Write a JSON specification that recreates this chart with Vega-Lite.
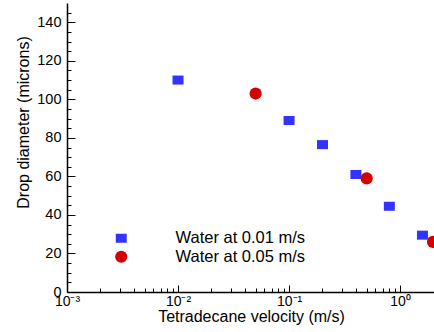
{
  "$schema": "https://vega.github.io/schema/vega-lite/v6.json",
  "width": 367,
  "height": 289,
  "autosize": {"type": "none"},
  "padding": {"left": 67, "top": 3, "right": 0, "bottom": 40},
  "background": "white",
  "config": {
    "view": {"stroke": null},
    "font": "Liberation Sans",
    "axis": {"grid": false, "domainColor": "black", "tickColor": "black", "labelColor": "black", "titleColor": "black", "labelFont": "Liberation Sans", "titleFont": "Liberation Sans", "titleFontWeight": "normal", "domainWidth": 1.5, "tickWidth": 1},
    "legend": {"labelFont": "Liberation Sans", "labelFontSize": 16.5, "labelColor": "black"}
  },
  "data": {
    "values": [
      {"v": 0.01, "d": 110, "series": "Water at 0.01 m/s"},
      {"v": 0.1, "d": 89, "series": "Water at 0.01 m/s"},
      {"v": 0.2, "d": 76.5, "series": "Water at 0.01 m/s"},
      {"v": 0.4, "d": 61, "series": "Water at 0.01 m/s"},
      {"v": 0.8, "d": 44.5, "series": "Water at 0.01 m/s"},
      {"v": 1.59, "d": 29.5, "series": "Water at 0.01 m/s"},
      {"v": 0.05, "d": 103, "series": "Water at 0.05 m/s"},
      {"v": 0.5, "d": 59, "series": "Water at 0.05 m/s"},
      {"v": 1.98, "d": 26, "series": "Water at 0.05 m/s"}
    ]
  },
  "layer": [
    {
      "mark": {"type": "point", "filled": true, "opacity": 1, "clip": true},
      "encoding": {
        "x": {
          "field": "v", "type": "quantitative",
          "scale": {"type": "log", "domain": [0.001, 2.02], "nice": false},
          "axis": {
            "orient": "bottom",
            "values": [0.001, 0.01, 0.1, 1],
            "labelExpr": "datum.value < 0.005 ? '10⁻³' : datum.value < 0.05 ? '10⁻²' : datum.value < 0.5 ? '10⁻¹' : '10⁰'",
            "tickSize": -7, "labelFontSize": 14, "labelPadding": 9, "labelFlush": false,
            "title": "Tetradecane velocity (m/s)", "titleFontSize": 16,
            "titleBaseline": "alphabetic", "titleY": 29, "titleX": 184, "titleAnchor": "middle"
          }
        },
        "y": {
          "field": "d", "type": "quantitative",
          "scale": {"domain": [0, 150], "nice": false, "zero": true},
          "axis": {
            "orient": "left",
            "values": [0, 20, 40, 60, 80, 100, 120, 140],
            "tickSize": -8, "labelFontSize": 14.5, "labelPadding": 14,
            "title": "Drop diameter (microns)", "titleFontSize": 16,
            "titleX": -36, "titleY": 119, "titleAngle": -90, "titleBaseline": "bottom", "titleAlign": "center"
          }
        },
        "color": {
          "field": "series", "type": "nominal",
          "scale": {"domain": ["Water at 0.01 m/s", "Water at 0.05 m/s"], "range": ["#3333FF", "#D40000"]},
          "legend": {"title": null, "orient": "none", "legendX": 46, "legendY": 227, "labelOffset": 46, "rowPadding": 1.5, "padding": 0, "symbolStrokeWidth": 0}
        },
        "shape": {
          "field": "series", "type": "nominal",
          "scale": {"domain": ["Water at 0.01 m/s", "Water at 0.05 m/s"], "range": ["M-1,-0.82H1V0.82H-1Z", "circle"]}
        },
        "size": {
          "field": "series", "type": "nominal",
          "scale": {"domain": ["Water at 0.01 m/s", "Water at 0.05 m/s"], "range": [121, 148]}
        }
      }
    },
    {
      "mark": {"type": "point", "opacity": 0},
      "encoding": {
        "x": {
          "field": "v", "type": "quantitative",
          "scale": {"type": "log", "domain": [0.001, 2.02], "nice": false},
          "axis": {
            "orient": "bottom",
            "values": [0.002, 0.003, 0.004, 0.005, 0.006, 0.007, 0.008, 0.009, 0.02, 0.03, 0.04, 0.05, 0.06, 0.07, 0.08, 0.09, 0.2, 0.3, 0.4, 0.5, 0.6, 0.7, 0.8, 0.9, 2],
            "tickSize": -4, "labels": false, "domain": false, "title": null
          }
        },
        "y": {
          "field": "d", "type": "quantitative",
          "scale": {"domain": [0, 150], "nice": false, "zero": true},
          "axis": {
            "orient": "left",
            "values": [5, 10, 15, 25, 30, 35, 45, 50, 55, 65, 70, 75, 85, 90, 95, 105, 110, 115, 125, 130, 135, 145],
            "tickSize": -4, "labels": false, "domain": false, "title": null
          }
        }
      }
    }
  ],
  "resolve": {"axis": {"x": "independent", "y": "independent"}}
}
